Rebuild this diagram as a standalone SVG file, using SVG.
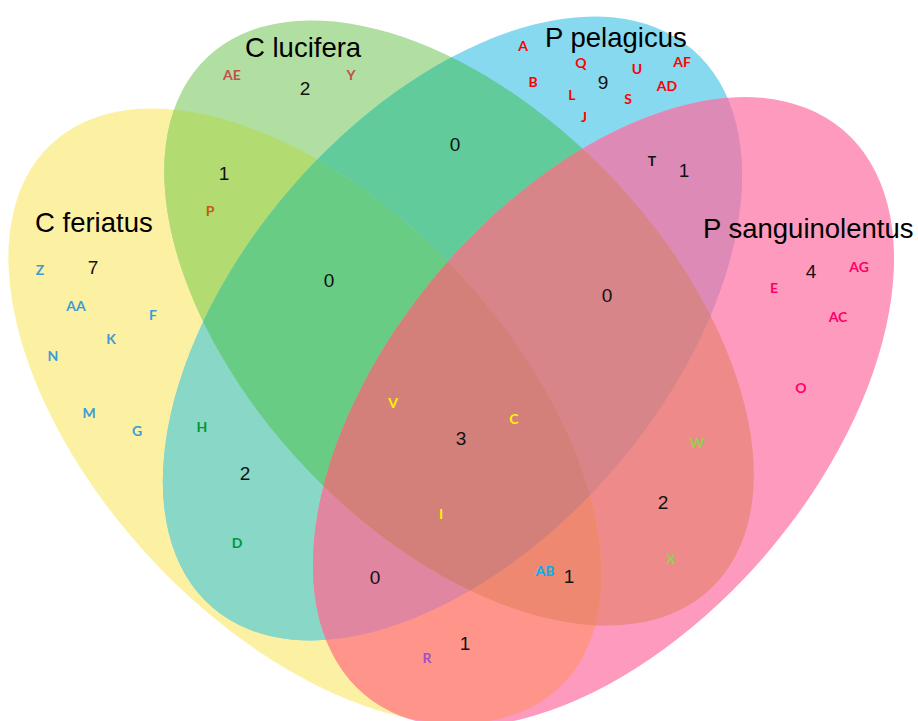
<svg xmlns="http://www.w3.org/2000/svg" xmlns:xlink="http://www.w3.org/1999/xlink" width="918" height="721" viewBox="0 0 918 721">
<style>
.t{font-family:"Liberation Sans",Arial,sans-serif;font-size:27.5px;fill:#000}
.n{font-family:"Liberation Sans",Arial,sans-serif;font-size:19px;fill:#111;text-anchor:middle}
.l{font-family:Lato,"Open Sans",sans-serif;font-weight:bold;font-size:14px;text-anchor:middle}
.cy{fill:#3C9BD8}.cl{fill:#C0504D}.co{fill:#C55A11}.cr{fill:#FF0000}.cp{fill:#FF0066}
.cyl{fill:#FFF200}.cg{fill:#92D050}.cb{fill:#00B0F0}.cv{fill:#A052C0}.cd{fill:#00963C}.ck{fill:#111}
</style>
<defs>
<ellipse id="eY" cx="0" cy="0" rx="372" ry="210" transform="translate(305 416) rotate(47)"/>
<ellipse id="eG" cx="0" cy="0" rx="366" ry="211" transform="translate(459 323) rotate(46.5)"/>
<ellipse id="eB" cx="0" cy="0" rx="368" ry="214" transform="translate(452.5 328.5) rotate(-49.3)"/>
<ellipse id="eP" cx="0" cy="0" rx="370" ry="216" transform="translate(603.5 412) rotate(-49.7)"/>
<clipPath id="cY"><use xlink:href="#eY"/></clipPath>
<clipPath id="cG"><use xlink:href="#eG"/></clipPath>
<clipPath id="cB"><use xlink:href="#eB"/></clipPath>
<clipPath id="cP"><use xlink:href="#eP"/></clipPath>
</defs>
<rect width="918" height="721" fill="#fff"/>
<g id="fills">
<g id="set-c-feriatus-shape"><use xlink:href="#eY" fill="#FCF1A3"/></g>
<g id="set-c-lucifera-shape"><use xlink:href="#eG" fill="#B1DEA1"/></g>
<g id="set-p-pelagicus-shape"><use xlink:href="#eB" fill="#87D9EF"/></g>
<g id="set-p-sanguinolentus-shape"><use xlink:href="#eP" fill="#FE9ABD"/></g>
<g id="pairs">
<use xlink:href="#eY" fill="#B2DC72" clip-path="url(#cG)"/>
<use xlink:href="#eG" fill="#62CB9C" clip-path="url(#cB)"/>
<use xlink:href="#eY" fill="#89D7C6" clip-path="url(#cB)"/>
<use xlink:href="#eB" fill="#DE8AB7" clip-path="url(#cP)"/>
<use xlink:href="#eG" fill="#EF8A8B" clip-path="url(#cP)"/>
<use xlink:href="#eY" fill="#FF958A" clip-path="url(#cP)"/>
</g>
<g id="triples">
<g clip-path="url(#cG)"><use xlink:href="#eY" fill="#68CC84" clip-path="url(#cB)"/></g>
<g clip-path="url(#cG)"><use xlink:href="#eB" fill="#D78589" clip-path="url(#cP)"/></g>
<g clip-path="url(#cY)"><use xlink:href="#eB" fill="#E086A1" clip-path="url(#cP)"/></g>
<g clip-path="url(#cY)"><use xlink:href="#eG" fill="#EE8870" clip-path="url(#cP)"/></g>
</g>
<g id="quad"><g clip-path="url(#cY)"><g clip-path="url(#cG)"><use xlink:href="#eB" fill="#D3807B" clip-path="url(#cP)"/></g></g></g>
</g>
<g id="set-c-feriatus">
<text class="t" x="35" y="232">C feriatus</text>
<text class="n" x="93" y="274">7</text>
<text class="l cy" x="40" y="275">Z</text>
<text class="l cy" x="76" y="311">AA</text>
<text class="l cy" x="153" y="320">F</text>
<text class="l cy" x="111" y="344">K</text>
<text class="l cy" x="53" y="361">N</text>
<text class="l cy" x="89" y="418">M</text>
<text class="l cy" x="137" y="436">G</text>
</g>
<g id="set-c-lucifera">
<text class="t" x="245" y="57">C lucifera</text>
<text class="n" x="305" y="95">2</text>
<text class="l cl" x="232" y="80">AE</text>
<text class="l cl" x="351" y="80">Y</text>
</g>
<g id="set-p-pelagicus">
<text class="t" x="545" y="47">P pelagicus</text>
<text class="n" x="603" y="89">9</text>
<text class="l cr" x="523" y="51">A</text>
<text class="l cr" x="581" y="68">Q</text>
<text class="l cr" x="637" y="74">U</text>
<text class="l cr" x="682" y="67">AF</text>
<text class="l cr" x="533" y="87">B</text>
<text class="l cr" x="667" y="91">AD</text>
<text class="l cr" x="572" y="100">L</text>
<text class="l cr" x="628" y="104">S</text>
<text class="l cr" x="584" y="122">J</text>
</g>
<g id="set-p-sanguinolentus">
<text class="t" x="703" y="238">P sanguinolentus</text>
<text class="n" x="811" y="278">4</text>
<text class="l cp" x="859" y="272">AG</text>
<text class="l cp" x="774" y="293">E</text>
<text class="l cp" x="838" y="322">AC</text>
<text class="l cp" x="801" y="393">O</text>
</g>
<g id="overlap-labels">
<text class="n" x="224" y="180">1</text>
<text class="l co" x="210" y="216">P</text>
<text class="n" x="455" y="151">0</text>
<text class="l ck" x="652" y="166">T</text>
<text class="n" x="684" y="177">1</text>
<text class="n" x="329" y="287">0</text>
<text class="n" x="607" y="302">0</text>
<text class="l cyl" x="393" y="408">V</text>
<text class="l cyl" x="514" y="424">C</text>
<text class="n" x="461" y="445">3</text>
<text class="l cyl" x="441" y="519">I</text>
<text class="l cd" x="202" y="432">H</text>
<text class="n" x="245" y="480">2</text>
<text class="l cd" x="237" y="548">D</text>
<text class="l cg" x="697" y="448">W</text>
<text class="n" x="663" y="509">2</text>
<text class="l cg" x="671" y="564">X</text>
<text class="n" x="375" y="584">0</text>
<text class="l cb" x="545" y="576">AB</text>
<text class="n" x="569" y="583">1</text>
<text class="n" x="465" y="650">1</text>
<text class="l cv" x="427" y="663">R</text>
</g>
</svg>
